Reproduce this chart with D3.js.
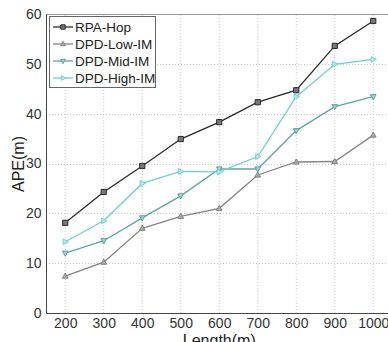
<!DOCTYPE html>
<html>
<head>
<meta charset="utf-8">
<script src="https://cdn.jsdelivr.net/npm/d3@7/dist/d3.min.js"></script>
<style>
  body { margin: 0; background: #fff; }
  svg { display: block; font-family: "Liberation Sans", Arial, sans-serif; }
</style>
</head>
<body>
<div id="chart"></div>
<script>
// values
const lengths = [200, 300, 400, 500, 600, 700, 800, 900, 1000];
const rpaHop = [18.1, 24.3, 29.5, 34.9, 38.3, 42.3, 44.7, 53.6, 58.6];
const dpdLow = [7.4, 10.2, 17.0, 19.4, 21.0, 27.7, 30.3, 30.4, 35.7];
const dpdMid = [12.0, 14.5, 19.1, 23.5, 28.9, 28.9, 36.6, 41.4, 43.4];
const dpdHigh = [14.3, 18.5, 26.0, 28.4, 28.3, 31.4, 43.4, 49.9, 50.9];
const yTicks = [0, 10, 20, 30, 40, 50, 60];

const series = [
	{ name: "RPA-Hop", values: rpaHop, color: "#2b2b2b", fill: "#777", symbol: "square" },
	{ name: "DPD-Low-IM", values: dpdLow, color: "#858585", fill: "#aaa", symbol: "up" },
	{ name: "DPD-Mid-IM", values: dpdMid, color: "#5ea5a8", fill: "#9ccfd0", symbol: "down" },
	{ name: "DPD-High-IM", values: dpdHigh, color: "#6dd0d6", fill: "#b5ecef", symbol: "right" }
];

const width = 388, height = 342;
const svg = d3.select("#chart").append("svg")
	.attr("width", width)
	.attr("height", height);

let x = d3.scaleLinear().domain([150, 1050]).range([46, 392.5]);
let y = d3.scaleLinear().domain([0, 60]).range([313, 14]);

// grid
svg.append("g").selectAll("line")
	.data(lengths)
	.enter().append("line")
	.attr("x1", d => x(d)).attr("x2", d => x(d))
	.attr("y1", y(0)).attr("y2", y(60))
	.attr("stroke", "#c8c8c8")
	.attr("stroke-dasharray", "1,2");

svg.append("g").selectAll("line")
	.data(yTicks.slice(1, -1))
	.enter().append("line")
	.attr("x1", x(150)).attr("x2", width)
	.attr("y1", d => Math.round(y(d)) + 0.5).attr("y2", d => Math.round(y(d)) + 0.5)
	.attr("stroke", "#c8c8c8")
	.attr("stroke-dasharray", "1,2");

// frame
svg.append("line")
	.attr("x1", 46.5).attr("x2", width)
	.attr("y1", 14.5).attr("y2", 14.5)
	.attr("stroke", "#999");

let xAxis = d3.axisBottom(x).tickValues(lengths).tickFormat(d3.format("d")).tickSize(0).tickPadding(5);
let yAxis = d3.axisLeft(y).tickValues(yTicks).tickSize(0).tickPadding(5);

svg.append("g")
	.attr("transform", "translate(0," + 313.5 + ")")
	.call(xAxis)
	.call(g => g.select(".domain").attr("d", "M46.5,0H" + width).attr("stroke", "#444"))
	.selectAll("text").attr("font-size", 14).attr("fill", "#333");

svg.append("g")
	.attr("transform", "translate(46.5,0)")
	.call(yAxis)
	.call(g => g.select(".domain").attr("d", "M0,14.5V313.5").attr("stroke", "#444"))
	.selectAll("text").attr("font-size", 14).attr("fill", "#333");

// axis titles
svg.append("text")
	.attr("transform", "translate(24,164) rotate(-90)")
	.attr("text-anchor", "middle")
	.attr("font-size", 16)
	.attr("fill", "#222")
	.text("APE(m)");

svg.append("text")
	.attr("x", x(600))
	.attr("y", 346)
	.attr("text-anchor", "middle")
	.attr("font-size", 16)
	.attr("fill", "#222")
	.text("Length(m)");

function marker(sel, s, size) {
	let r = size;
	let path;
	if (s.symbol === "square") path = "M" + -r + "," + -r + "H" + r + "V" + r + "H" + -r + "Z";
	else if (s.symbol === "up") path = "M0," + -r * 1.2 + "L" + r * 1.1 + "," + r * 0.8 + "H" + -r * 1.1 + "Z";
	else if (s.symbol === "down") path = "M0," + r * 1.2 + "L" + r * 1.1 + "," + -r * 0.8 + "H" + -r * 1.1 + "Z";
	else path = "M" + r * 1.2 + ",0L" + -r * 0.8 + "," + r * 1.1 + "V" + -r * 1.1 + "Z";
	sel.append("path")
		.attr("d", path)
		.attr("fill", s.fill)
		.attr("stroke", s.color)
		.attr("stroke-width", 1);
}

let line = d3.line()
	.x((d, i) => x(lengths[i]))
	.y(d => y(d));

series.forEach(function (s) {
	let g = svg.append("g");
	g.append("path")
		.attr("d", line(s.values))
		.attr("fill", "none")
		.attr("stroke", s.color)
		.attr("stroke-width", 1.3);
	s.values.forEach(function (v, i) {
		let m = g.append("g").attr("transform", "translate(" + x(lengths[i]) + "," + y(v) + ")");
		marker(m, s, 2.6);
	});
});

// legend
let legend = svg.append("g");
legend.append("rect")
	.attr("x", 49.5).attr("y", 16.5)
	.attr("width", 106).attr("height", 71)
	.attr("fill", "#fff")
	.attr("stroke", "#666");

series.forEach(function (s, i) {
	let ly = 27 + i * 17;
	legend.append("line")
		.attr("x1", 53).attr("x2", 73)
		.attr("y1", ly).attr("y2", ly)
		.attr("stroke", s.color)
		.attr("stroke-width", 1.3);
	let m = legend.append("g").attr("transform", "translate(63," + ly + ")");
	marker(m, s, 2.2);
	legend.append("text")
		.attr("x", 75).attr("y", ly + 5)
		.attr("font-size", 13.5)
		.attr("fill", "#222")
		.text(s.name);
});
</script>
</body>
</html>
